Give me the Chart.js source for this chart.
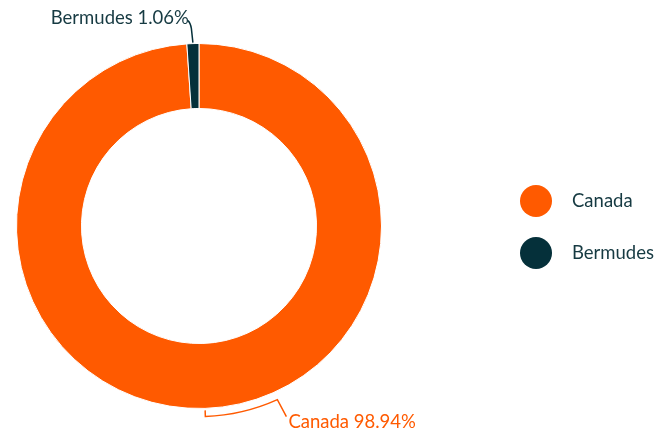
<!DOCTYPE html>
<html>
<head>
<meta charset="utf-8">
<script src="https://cdn.jsdelivr.net/npm/chart.js@4"></script>
<style>
  html, body { margin: 0; padding: 0; background: #fff; }
  #wrap { width: 670px; height: 434px; }
</style>
</head>
<body>
<div id="wrap"><canvas id="pieCanvas"></canvas></div>
<script>
const categories = ["Canada", "Bermudes"];
const shares = [98.94, 1.06];
const shareLabels = ["98.94%", "1.06%"];
const colors = ["#FF5A00", "#05303A"];
const textDark = "#163A42";
const fontFamily = "Lato, 'Open Sans', sans-serif";

// callouts + legend drawn on canvas
const calloutPlugin = {
  id: "callouts",
  afterDraw(chart) {
    const ctx = chart.ctx;
    const meta = chart.getDatasetMeta(0);
    ctx.save();
    ctx.font = "18.5px " + fontFamily;
    ctx.lineWidth = 1.5;

    // Canada: bracket below the ring
    const a0 = meta.data[0];
    const midA = (a0.startAngle + a0.endAngle) / 2;
    const cx = a0.x, cy = a0.y, r = a0.outerRadius;
    const rr = r + 8;
    const endA = Math.atan2(175, 79);
    ctx.strokeStyle = colors[0];
    ctx.beginPath();
    ctx.moveTo(cx + Math.cos(midA) * (r + 2), cy + Math.sin(midA) * (r + 2));
    ctx.lineTo(cx + Math.cos(midA) * rr, cy + Math.sin(midA) * rr);
    ctx.arc(cx, cy, rr, midA, endA, true);
    const ex = cx + Math.cos(endA) * rr, ey = cy + Math.sin(endA) * rr;
    ctx.lineTo(ex + 9, ey + 17);
    ctx.stroke();
    ctx.fillStyle = colors[0];
    ctx.textAlign = "left";
    ctx.textBaseline = "middle";
    ctx.fillText(categories[0] + " " + shareLabels[0], ex + 11, ey + 22);

    // Bermudes: line up to label
    const a1 = meta.data[1];
    const midB = (a1.startAngle + a1.endAngle) / 2;
    const bx = cx + Math.cos(midB) * (r + 1), by = cy + Math.sin(midB) * (r + 1);
    ctx.strokeStyle = colors[1];
    ctx.beginPath();
    ctx.moveTo(bx, by);
    ctx.lineTo(bx - 1.5, by - 14);
    ctx.quadraticCurveTo(bx - 2.5, by - 20, bx - 5, by - 22);
    ctx.stroke();
    ctx.fillStyle = textDark;
    ctx.textAlign = "right";
    ctx.fillText(categories[1] + " " + shareLabels[1], bx - 4, by - 25);

    // legend
    categories.forEach((name, i) => {
      const ly = 201 + i * 52;
      ctx.fillStyle = colors[i];
      ctx.beginPath();
      ctx.arc(536, ly, 16, 0, Math.PI * 2);
      ctx.fill();
      ctx.fillStyle = textDark;
      ctx.textAlign = "left";
      ctx.fillText(name, 572, ly);
    });
    ctx.restore();
  }
};

new Chart(document.getElementById("pieCanvas"), {
  type: "doughnut",
  data: {
    labels: categories,
    datasets: [{
      data: shares,
      backgroundColor: colors,
      borderColor: "#ffffff",
      borderWidth: 1
    }]
  },
  options: {
    responsive: true,
    maintainAspectRatio: false,
    animation: false,
    cutout: "64.4%",
    layout: { padding: { left: 16, top: 43, right: 288, bottom: 25 } },
    plugins: {
      legend: { display: false },
      tooltip: { enabled: false }
    }
  },
  plugins: [calloutPlugin]
});
</script>
</body>
</html>
